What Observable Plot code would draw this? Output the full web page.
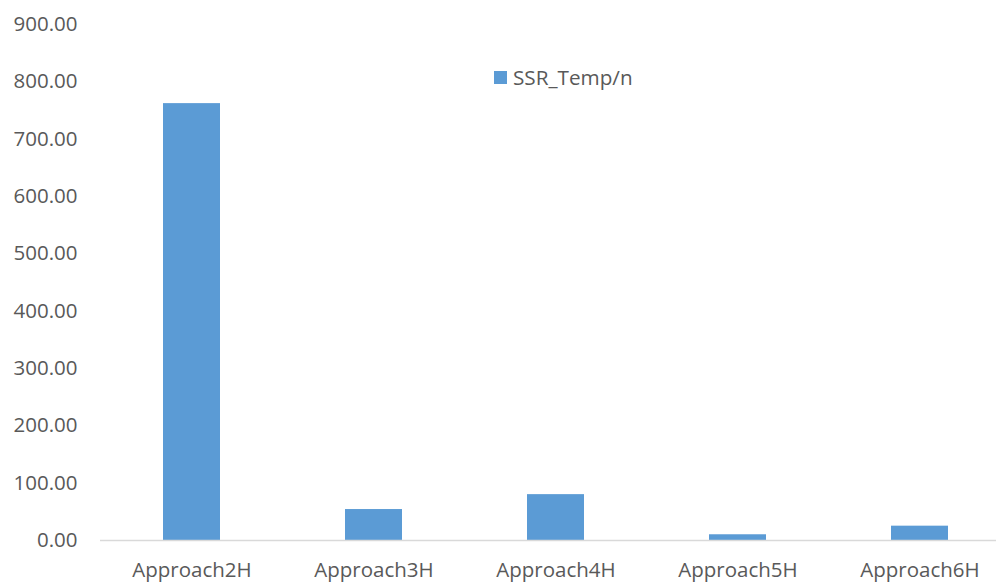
<!DOCTYPE html>
<html>
<head>
<meta charset="utf-8">
<script src="https://cdn.jsdelivr.net/npm/d3@7"></script>
<script src="https://cdn.jsdelivr.net/npm/@observablehq/plot@0.6"></script>
<style>
  html, body { margin: 0; padding: 0; background: #fff; }
  #wrap { position: relative; width: 996px; height: 583px; overflow: hidden; font-family: "Open Sans", sans-serif; }
  #legend { position: absolute; left: 494px; top: 63px; display: flex; align-items: center; font-size: 20.7px; color: #595959; }
  #legend .sw { width: 13px; height: 13px; background: #5B9BD5; margin-right: 6px; }
</style>
</head>
<body>
<div id="wrap">
  <div id="chart"></div>
  <div id="legend"><div class="sw"></div><span id="legname"></span></div>
</div>
<script>
const categories = ["Approach2H", "Approach3H", "Approach4H", "Approach5H", "Approach6H"];
const values = [762, 54, 80, 10, 25];
const seriesName = "SSR_Temp/n";
const yTicks = [0, 100, 200, 300, 400, 500, 600, 700, 800, 900];

const data = categories.map((c, i) => ({category: c, value: values[i]}));
document.getElementById("legname").textContent = seriesName;

const chart = Plot.plot({
  width: 996,
  height: 583,
  marginLeft: 100,
  marginRight: -14,
  marginTop: 24,
  marginBottom: 43,
  style: {fontFamily: "Open Sans, sans-serif", color: "#595959", background: "#fff", overflow: "visible"},
  x: {domain: categories, paddingInner: 0.687, paddingOuter: 0.3435, label: null},
  y: {domain: [0, 900], label: null},
  marks: [
    Plot.barY(data, {x: "category", y: "value", fill: "#5B9BD5"}),
    Plot.ruleY([0], {stroke: "#D9D9D9", strokeWidth: 1.5}),
    Plot.axisY({ticks: yTicks, tickSize: 0, tickPadding: 23, tickFormat: d => d.toFixed(2), fontSize: 20.5, label: null, fill: "#595959"}),
    Plot.axisX({tickSize: 0, tickPadding: 22, fontSize: 20.5, label: null, fill: "#595959"})
  ]
});
document.getElementById("chart").appendChild(chart);
</script>
</body>
</html>
